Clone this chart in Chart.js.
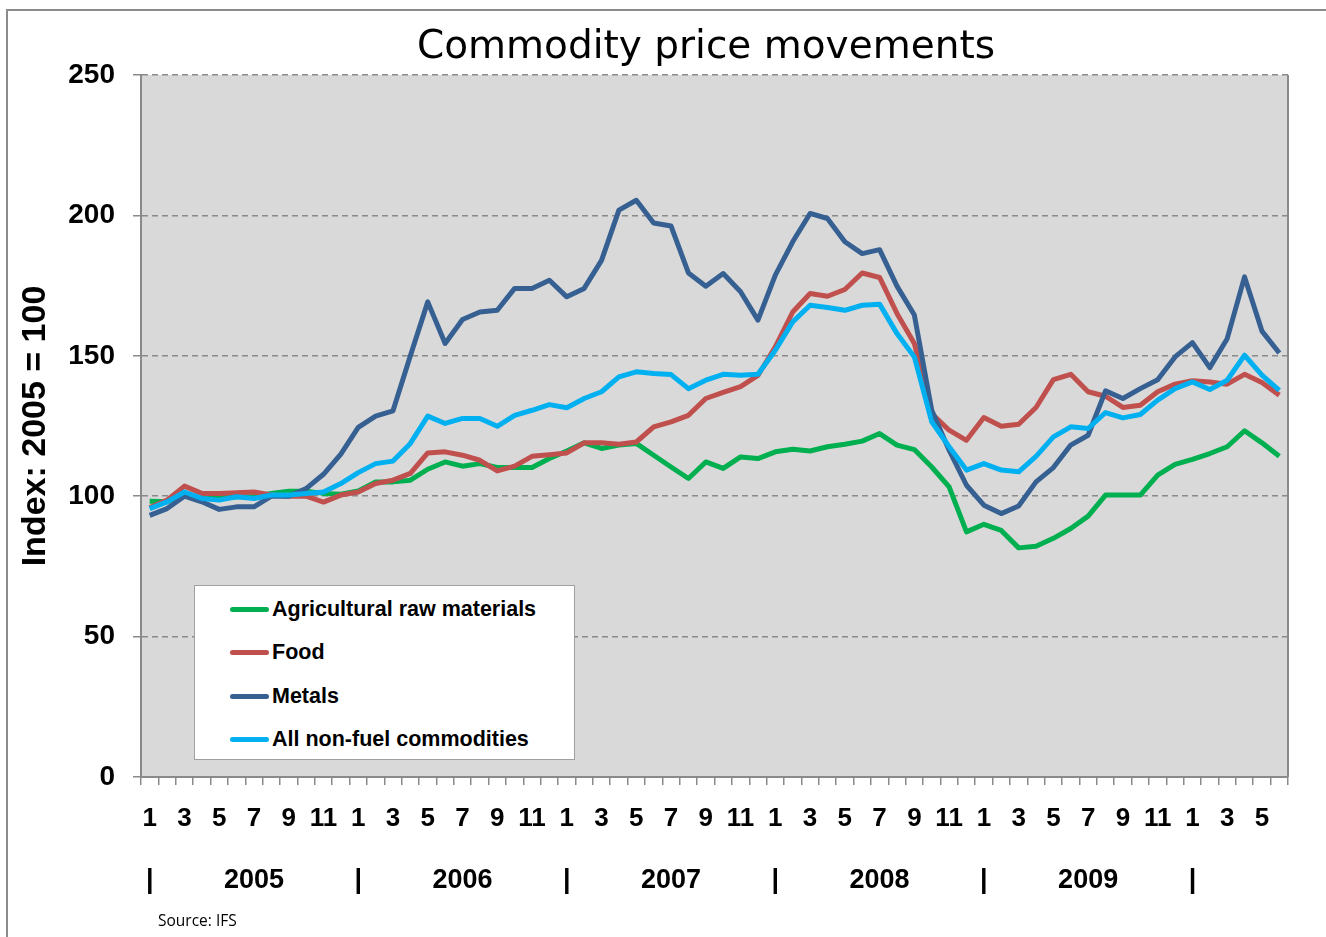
<!DOCTYPE html>
<html>
<head>
<meta charset="utf-8">
<title>Commodity price movements</title>
<script src="https://cdn.jsdelivr.net/npm/chart.js@4.4.1/dist/chart.umd.min.js"></script>
<style>
  body { margin: 0; background: #fff; overflow: hidden; }
  #wrap { position: relative; width: 1326px; height: 937px; }
  #frame { position: absolute; left: 6px; top: 9px; width: 1400px; height: 1000px; border: 2px solid #8c8c8c; }
  #chart { position: absolute; left: 0; top: 0; }
  #titulo { position: absolute; left: 306px; top: 22px; width: 800px; text-align: center;
    font: 39px/46px 'DejaVu Sans', sans-serif; color: #000; }
  #legenda { position: absolute; left: 194px; top: 585px; width: 379px; height: 173px;
    background: #fff; border: 1.5px solid #a0a0a0; }
  .item { position: absolute; left: 35px; height: 30px; display: flex; align-items: center;
    font: bold 21.5px 'Liberation Sans', Arial, sans-serif; color: #000; }
  .item span.linha { display: inline-block; width: 39px; height: 5px; border-radius: 3px; margin-right: 3px; }
  #fonte { position: absolute; left: 158px; top: 909px; font: 15.5px 'Open Sans', sans-serif; color: #000; }
</style>
</head>
<body>
<div id="wrap">
  <div id="frame"></div>
  <canvas id="chart" width="1326" height="937"></canvas>
  <div id="titulo">Commodity price movements</div>
  <div id="legenda"></div>
  <div id="fonte">Source: IFS</div>
</div>
<script>
// Dados (indice 2005 = 100), Jan 2005 a Jun 2010
const years = ['2005', '2006', '2007', '2008', '2009', '2010'];
const monthTicks = ['1', '', '3', '', '5', '', '7', '', '9', '', '11', ''];
const nPoints = 66;

const agri = [98.2, 98, 101, 99.2, 99.2, 99.8, 99.8, 101, 101.8, 101.8, 101, 100.7,
  101.9, 105.1, 105.1, 105.7, 109.6, 112.2, 110.7, 111.6, 110.2, 110.2, 110.2, 113.4,
  116.1, 119, 117, 118.2, 118.8, 114.6, 110.4, 106.3, 112.2, 109.9, 114, 113.4,
  115.8, 116.7, 116.1, 117.6, 118.5, 119.6, 122.3, 118.2, 116.6, 110.4, 103.3, 87.3,
  90, 87.8, 81.6, 82.2, 85, 88.5, 92.9, 100.4, 100.4, 100.4, 107.5, 111.3,
  113.1, 115.2, 117.6, 123.3, 119, 114.2];

const food = [96, 98.6, 103.6, 101, 101, 101.2, 101.5, 100.4, 100, 100, 97.9, 100.4,
  101.5, 104.5, 105.7, 108.1, 115.4, 115.8, 114.6, 112.8, 109, 110.7, 114.2, 114.8,
  115.4, 119, 119, 118.5, 119.3, 124.7, 126.5, 128.8, 134.8, 137, 139, 143,
  153.2, 165.6, 172.2, 171.2, 173.6, 179.5, 177.9, 165.1, 154.4, 129.4, 123.5, 119.9,
  128, 124.9, 125.6, 131.6, 141.5, 143.4, 137.2, 135.6, 131.6, 132.4, 137.2, 139.9,
  141.1, 140.7, 139.9, 143.4, 140.5, 136];

const metals = [93.2, 95.6, 100, 98, 95.3, 96.2, 96.2, 100, 100, 102.7, 107.8, 115,
  124.5, 128.5, 130.4, 150, 169.2, 154.4, 162.9, 165.6, 166.2, 174, 174, 176.9,
  171, 174, 184, 201.9, 205.4, 197.3, 196.2, 179.5, 174.8, 179.3, 172.8, 162.7,
  178.7, 190.6, 200.7, 198.9, 190.6, 186.4, 187.8, 174.8, 164.5, 130.6, 116.4, 103.9,
  96.8, 93.8, 96.5, 105.1, 110.2, 118.2, 121.7, 137.5, 134.8, 138.3, 141.5, 149.6,
  154.7, 145.8, 156.1, 178.1, 158.8, 151];

const allNonFuel = [95.6, 98, 101.5, 99.2, 98.6, 99.8, 99.2, 100.4, 100.4, 101, 101.5, 104.5,
  108.4, 111.6, 112.5, 118.8, 128.5, 125.9, 127.7, 127.7, 124.9, 128.8, 130.6, 132.6,
  131.5, 134.8, 137.2, 142.5, 144.3, 143.7, 143.3, 138.3, 141.3, 143.4, 143.1, 143.4,
  152, 162.1, 168, 167.2, 166.2, 168, 168.4, 157.9, 149.6, 126.5, 117.6, 109.3,
  111.6, 109.3, 108.7, 114.2, 121.1, 124.7, 124.1, 129.8, 127.9, 129.1, 134.2, 138.3,
  140.7, 138, 141.3, 150.2, 143.1, 137.7];

// Categorias e linha dos anos
const periods = [];
for (let i = 0; i < nPoints; i++) {
  periods.push(years[Math.floor(i / 12)] + '-' + (i % 12 + 1));
}
const yearRow = periods.map((p, i) => {
  if (i % 12 === 0) return '|';
  if (i % 12 === 6) return years[Math.floor(i / 12)];
  return '';
});

const cinza = '#8a8a8a';
const fonte = "'Liberation Sans', Arial, sans-serif";

// Fundo da area do grafico
const fundoPlot = {
  id: 'fundoPlot',
  beforeDraw(chart) {
    const { ctx, chartArea: a } = chart;
    ctx.save();
    ctx.fillStyle = '#d9d9d9';
    ctx.fillRect(a.left, a.top, a.width, a.height);
    ctx.strokeStyle = cinza;
    ctx.lineWidth = 2;
    ctx.beginPath();
    ctx.moveTo(a.right, a.top);
    ctx.lineTo(a.right, a.bottom);
    ctx.stroke();
    ctx.restore();
  }
};

function serie(label, data, cor, ordem) {
  return {
    label: label,
    data: data,
    borderColor: cor,
    backgroundColor: cor,
    borderWidth: 5,
    pointRadius: 0,
    tension: 0,
    borderJoinStyle: 'round',
    order: ordem
  };
}

let ctx = document.getElementById('chart').getContext('2d');
let grafico = new Chart(ctx, {
  type: 'line',
  data: {
    labels: periods,
    datasets: [
      serie('Agricultural raw materials', agri, '#00b050', 4),
      serie('Food', food, '#c0504d', 3),
      serie('Metals', metals, '#376092', 2),
      serie('All non-fuel commodities', allNonFuel, '#00b0f0', 1)
    ]
  },
  options: {
    responsive: false,
    animation: false,
    layout: { padding: { top: 75, right: 38, bottom: 40, left: 0 } },
    plugins: {
      legend: { display: false },
      tooltip: { enabled: false },
      title: { display: false }
    },
    scales: {
      x: {
        type: 'category',
        offset: true,
        weight: 0,
        grid: { display: true, drawOnChartArea: false, offset: true, tickLength: 8, color: cinza, lineWidth: 1.5 },
        border: { display: true, color: cinza, width: 2 },
        ticks: {
          autoSkip: false, maxRotation: 0, minRotation: 0, padding: 18, color: '#000',
          font: { family: fonte, size: 26, weight: 'bold' },
          callback: (value, index) => monthTicks[index % 12]
        },
        afterFit: (scale) => { scale.height = 58; }
      },
      x2: {
        type: 'category',
        position: 'bottom',
        labels: yearRow,
        offset: true,
        weight: 1,
        grid: { display: false, drawTicks: false },
        border: { display: false },
        ticks: {
          autoSkip: false, maxRotation: 0, minRotation: 0, padding: 29, color: '#000',
          font: { family: fonte, size: 27, weight: 'bold' }
        },
        afterFit: (scale) => { scale.height = 62; }
      },
      y: {
        min: 0,
        max: 250,
        ticks: { stepSize: 50, padding: 18, color: '#000', font: { family: fonte, size: 28, weight: 'bold' } },
        grid: { color: cinza, lineWidth: 1.5, tickLength: 8, tickColor: cinza, tickWidth: 1.5 },
        border: { display: true, color: cinza, width: 2, dash: [6, 4] },
        title: {
          display: true,
          text: 'Index: 2005 = 100',
          color: '#000',
          padding: { top: 15, bottom: 0 },
          font: { family: fonte, size: 34, weight: 'bold' }
        },
        afterFit: (scale) => { scale.width = 141; }
      }
    }
  },
  plugins: [fundoPlot]
});

// Legenda em caixa dentro da area do grafico
function renderizarLegenda() {
  const caixa = document.getElementById('legenda');
  caixa.innerHTML = '';
  const centros = [23, 66, 110, 153];
  grafico.data.datasets.forEach((d, index) => {
    const item = document.createElement('div');
    item.className = 'item';
    item.style.top = (centros[index] - 15) + 'px';
    item.innerHTML = `<span class="linha" style="background:${d.borderColor}"></span>${d.label}`;
    caixa.appendChild(item);
  });
}

renderizarLegenda();
</script>
</body>
</html>
